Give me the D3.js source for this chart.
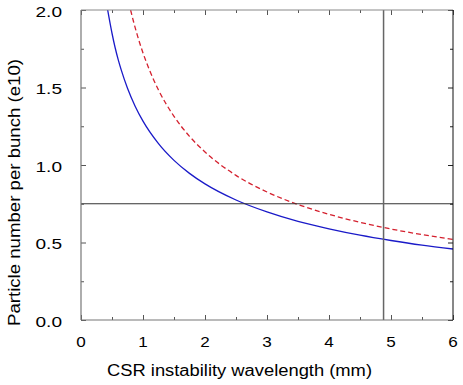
<!DOCTYPE html>
<html><head><meta charset="utf-8">
<script src="https://cdn.jsdelivr.net/npm/d3@7"></script>
<style>
html,body{margin:0;padding:0;background:#fff;}
text{font-family:"Liberation Sans",Arial,Helvetica,sans-serif;fill:#000;}
</style></head>
<body><svg id="c" width="463" height="385"></svg>
<script>
// Data
const blueX = [0.43,0.5,0.55,0.6,0.65,0.75,0.875,1.0,1.25,1.5,1.75,2.0,2.5,3.0,3.5,4.0,4.5,5.0,5.5,6.0];
const blueY = [2.0,1.85,1.758,1.68,1.612,1.495,1.378,1.283,1.138,1.03,0.946,0.878,0.774,0.697,0.636,0.588,0.547,0.513,0.483,0.458];
const redX = [0.80,0.85,0.9,1.0,1.1,1.25,1.5,1.75,2.0,2.5,3.0,3.5,4.0,4.5,5.0,5.5,6.0];
const redY = [2.0,1.921,1.849,1.723,1.617,1.484,1.314,1.185,1.084,0.933,0.826,0.745,0.682,0.630,0.587,0.551,0.52];
const xTicks = [0,1,2,3,4,5,6];
const xMinor = [0.5,1.5,2.5,3.5,4.5,5.5];
const yTicks = [0.0,0.5,1.0,1.5,2.0];
const yMinor = [0.25,0.75,1.25,1.75];
const hLineY = 0.75;
const vLineX = 4.88;
const xTitle = "CSR instability wavelength (mm)";
const yTitle = "Particle number per bunch (e10)";

const svg = d3.select("#c");
const L = 81, R = 453, T = 10, B = 320;
const x = d3.scaleLinear().domain([0,6]).range([L,R]);
const y = d3.scaleLinear().domain([0,2]).range([B,T]);

svg.append("clipPath").attr("id","pc").append("rect")
  .attr("x",L).attr("y",T).attr("width",R-L).attr("height",B-T);

// curves
const line = d3.line().x(d=>x(d[0])).y(d=>y(d[1])).curve(d3.curveMonotoneX);
const g = svg.append("g").attr("clip-path","url(#pc)");
g.append("path").datum(blueX.map((v,i)=>[v,blueY[i]]))
  .attr("d",line).attr("fill","none").attr("stroke","#1a1ac8").attr("stroke-width",1.3);
g.append("path").datum(redX.map((v,i)=>[v,redY[i]]))
  .attr("d",line).attr("fill","none").attr("stroke","#d4202e").attr("stroke-width",1.3)
  .attr("stroke-dasharray","5,3");

// reference lines
svg.append("line").attr("x1",L).attr("x2",R).attr("y1",y(hLineY)).attr("y2",y(hLineY))
  .attr("stroke","#333").attr("stroke-width",1.1);
svg.append("line").attr("x1",x(vLineX)).attr("x2",x(vLineX)).attr("y1",T).attr("y2",B)
  .attr("stroke","#666").attr("stroke-width",1.5);

// axes (ticks inward on all sides)
function styleAx(sel, col){
  sel.select(".domain").remove();
  sel.selectAll(".tick line").attr("stroke",col);
}
function addAxis(axisFn, scale, vals, size, tr, col){
  const a = svg.append("g").attr("transform",tr)
    .call(axisFn(scale).tickValues(vals).tickSize(size).tickFormat(""));
  styleAx(a,col);
}
addAxis(d3.axisTop, x, xTicks, 5, `translate(0,${B})`, "#555");
addAxis(d3.axisTop, x, xMinor, 3, `translate(0,${B})`, "#555");
addAxis(d3.axisBottom, x, xTicks, 5, `translate(0,${T})`, "#555");
addAxis(d3.axisBottom, x, xMinor, 3, `translate(0,${T})`, "#555");
addAxis(d3.axisRight, y, yTicks, 5, `translate(${L},0)`, "#555");
addAxis(d3.axisRight, y, yMinor, 3, `translate(${L},0)`, "#555");
addAxis(d3.axisLeft, y, yTicks, 5, `translate(${R},0)`, "#222");
addAxis(d3.axisLeft, y, yMinor, 3, `translate(${R},0)`, "#222");

// frame
svg.append("line").attr("x1",L).attr("x2",L).attr("y1",T).attr("y2",B).attr("stroke","#777").attr("stroke-width",1.2);
svg.append("line").attr("x1",L).attr("x2",R).attr("y1",B).attr("y2",B).attr("stroke","#777").attr("stroke-width",1.2);
svg.append("line").attr("x1",L).attr("x2",R).attr("y1",T).attr("y2",T).attr("stroke","#888").attr("stroke-width",1);
svg.append("line").attr("x1",R).attr("x2",R).attr("y1",T).attr("y2",B).attr("stroke","#111").attr("stroke-width",1);

// tick labels
svg.selectAll(".xl").data(xTicks).enter().append("text")
  .attr("x",d=>x(d)).attr("y",346.5).attr("text-anchor","middle")
  .attr("font-size",15).attr("textLength",9.5).attr("lengthAdjust","spacingAndGlyphs")
  .text(d=>d3.format("d")(d));
svg.selectAll(".yl").data(yTicks).enter().append("text")
  .attr("x",62).attr("y",d=>y(d)+6.5).attr("text-anchor","end")
  .attr("font-size",15).attr("textLength",26.5).attr("lengthAdjust","spacingAndGlyphs")
  .text(d=>d3.format(".1f")(d));

// titles
svg.append("text").attr("x",107).attr("y",376).attr("font-size",16)
  .attr("textLength",265).attr("lengthAdjust","spacingAndGlyphs").text(xTitle);
svg.append("text").attr("transform","translate(20,326) rotate(-90)").attr("font-size",16)
  .attr("textLength",267).attr("lengthAdjust","spacingAndGlyphs").text(yTitle);
</script></body></html>
